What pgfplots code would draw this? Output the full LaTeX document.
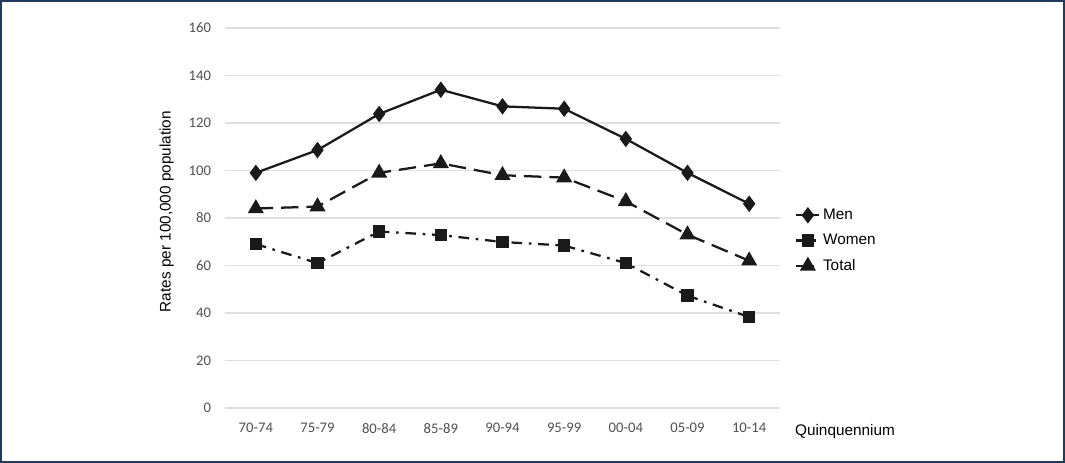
\documentclass[border=0pt]{standalone}
\usepackage{fontspec}
\setmainfont{Liberation Sans}
\newfontfamily\calib{Carlito}
\usepackage{pgfplots}
\pgfplotsset{compat=1.18}

\definecolor{framecol}{HTML}{1F3A5C}
\definecolor{tickcol}{HTML}{505050}
\definecolor{gridcol}{HTML}{E0E0E0}
\definecolor{linecol}{HTML}{1A1A1A}

\begin{document}
\begin{tikzpicture}
\useasboundingbox (0,0) rectangle (798.75pt,347.25pt);
\draw[framecol, line width=1.4pt] (0.7pt,0.7pt) rectangle (798.05pt,346.55pt);

\begin{axis}[
  at={(168.75pt,41.25pt)}, anchor=south west,
  scale only axis,
  width=416.25pt, height=285pt,
  xmin=-0.5, xmax=8.5,
  ymin=0, ymax=160,
  xtick={0,...,8},
  xticklabels={70-74,75-79,80-84,85-89,90-94,95-99,00-04,05-09,10-14},
  ytick={0,20,...,160},
  axis line style={draw=none},
  major tick length=0pt,
  ymajorgrids,
  grid style={gridcol, line width=0.8pt},
  /pgf/number format/assume math mode=true,
  ticklabel style={font=\calib\fontsize{11}{13}\selectfont, text=tickcol},
  yticklabel style={xshift=-7pt},
  xticklabel style={yshift=-8pt},
  legend style={at={(rel axis cs:1.02,0.44)}, anchor=west, draw=none,
    fill=none, font=\fontsize{11.5}{13}\selectfont, row sep=5.5pt,
    legend cell align=left},
]
\addplot[linecol, line width=1.7pt, mark=diamond*, mark size=4.8pt,
  mark options={solid}]
  coordinates {(0,99) (1,108.6) (2,123.8) (3,134) (4,127) (5,126) (6,113.3) (7,99) (8,86)};
\addlegendentry{Men}
\addplot[linecol, line width=1.7pt, mark=square*, mark size=3.8pt,
  dash pattern=on 8pt off 5pt on 2pt off 5pt, mark options={solid}]
  coordinates {(0,69) (1,61) (2,74.3) (3,72.8) (4,69.9) (5,68.4) (6,61) (7,47.3) (8,38.3)};
\addlegendentry{Women}
\addplot[linecol, line width=1.7pt, mark=triangle*, mark size=5.3pt,
  dash pattern=on 13pt off 6pt, mark options={solid}]
  coordinates {(0,84) (1,84.8) (2,99) (3,103) (4,98) (5,97) (6,87) (7,73) (8,62)};
\addlegendentry{Total}
\end{axis}

\node[rotate=90, font=\fontsize{11.5}{13}\selectfont] at (125pt,188.6pt)
  {Rates per 100,000 population};
\node[font=\fontsize{11.5}{13}\selectfont] at (633.75pt,23.25pt) {Quinquennium};
\end{tikzpicture}
\end{document}
